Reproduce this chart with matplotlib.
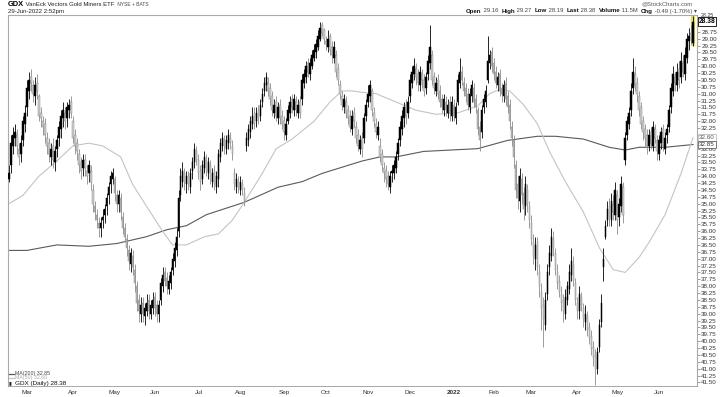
import numpy as np
import pandas as pd
import matplotlib
matplotlib.use('Agg')
import matplotlib.pyplot as plt
from matplotlib.lines import Line2D

plt.rcParams['font.family'] = ['Liberation Sans', 'DejaVu Sans']

holidays = ['2021-04-02', '2021-05-31', '2021-07-05', '2021-09-06', '2021-11-25',
            '2021-12-24', '2022-01-17', '2022-02-21', '2022-04-15', '2022-05-30', '2022-06-20']

opens = [
    34.1, 33.6, 32.9, 32.6, 32.5, 33.0, 33.2, 32.7, 32.1, 31.5,
    30.9, 30.4, 30.7, 31.1, 30.6, 31.1, 31.7, 32.0, 32.1, 32.6,
    32.8, 33.3, 32.9, 33.5, 33.0, 32.6, 32.3, 31.9, 31.7, 31.9,
    31.6, 31.3, 32.0, 32.5, 32.8, 33.2, 33.5, 33.7, 33.4, 33.8,
    33.9, 33.8, 34.5, 35.1, 35.4, 35.7, 35.9, 35.6, 35.4, 35.1,
    34.7, 34.3, 34.1, 34.1, 34.7, 35.0, 34.8, 35.5, 35.9, 36.3,
    36.7, 37.2, 36.9, 37.4, 38.0, 38.5, 39.0, 38.6, 39.1, 38.9,
    38.5, 39.0, 38.8, 38.4, 38.7, 39.0, 38.5, 38.0, 37.5, 37.7,
    38.1, 37.9, 37.4, 37.1, 36.7, 36.0, 34.7, 34.2, 33.9, 34.3,
    34.0, 34.4, 33.8, 33.5, 33.1, 33.4, 33.8, 34.1, 33.7, 33.4,
    33.9, 33.6, 34.2, 33.8, 34.4, 34.1, 33.3, 32.9, 32.7, 33.0,
    32.8, 32.6, 32.9, 33.9, 34.4, 34.2, 34.5, 34.3, 34.6, 32.9,
    32.7, 32.4, 32.1, 31.7, 32.0, 31.6, 31.8, 31.3, 30.9, 30.7,
    30.6, 30.8, 31.1, 31.7, 31.3, 31.9, 31.4, 31.8, 32.0, 32.5,
    32.0, 31.7, 31.2, 31.6, 31.3, 31.7, 31.3, 31.2, 30.6, 30.4,
    29.9, 30.3, 30.0, 29.7, 29.5, 29.3, 29.0, 28.5, 28.7, 29.1,
    29.3, 28.9, 29.3, 29.7, 29.6, 30.1, 30.7, 31.1, 31.5, 31.3,
    31.6, 31.8, 32.3, 31.7, 32.2, 32.5, 33.0, 32.6, 32.6, 31.8,
    31.3, 31.1, 30.9, 31.7, 32.1, 32.5, 32.9, 33.2, 33.7, 33.8,
    34.0, 34.4, 33.9, 33.9, 33.7, 33.2, 32.7, 32.3, 31.9, 31.4,
    31.7, 31.1, 30.6, 30.3, 30.1, 30.3, 30.7, 30.3, 30.5, 30.8,
    30.3, 29.9, 29.6, 30.4, 30.9, 30.5, 30.9, 31.2, 31.6, 31.3,
    31.7, 31.3, 31.8, 31.4, 31.9, 31.3, 30.6, 30.2, 30.6, 30.8,
    31.0, 31.5, 31.1, 30.8, 31.2, 31.6, 32.2, 32.4, 31.5, 31.3,
    30.5, 29.9, 29.5, 29.9, 30.2, 30.7, 30.3, 30.8, 31.1, 30.6,
    31.1, 31.4, 32.2, 32.7, 33.6, 34.3, 34.9, 34.1, 34.6, 35.1,
    34.5, 35.1, 35.7, 36.4, 37.0, 36.4, 37.5, 38.2, 38.7, 39.4,
    38.3, 37.3, 36.9, 36.3, 36.8, 37.5, 37.8, 38.3, 38.5, 39.0,
    38.5, 38.1, 37.6, 37.2, 37.9, 38.6, 38.9, 38.4, 38.8, 39.3,
    39.1, 39.5, 39.8, 40.2, 40.5, 41.0, 40.2, 39.3, 37.3, 36.2,
    35.6, 35.1, 35.6, 35.0, 35.4, 34.7, 35.5, 35.1, 34.4, 33.4,
    32.5, 32.1, 31.6, 30.8, 30.3, 30.6, 31.1, 31.5, 32.0, 32.3,
    32.5, 32.9, 32.4, 32.9, 32.3, 32.7, 33.2, 32.8, 32.3, 33.0,
    32.5, 32.2, 31.5, 30.9, 30.4, 30.7, 30.1, 30.4, 29.9, 30.3,
    29.7, 29.1, 28.8, 29.16]

highs = [
    34.2, 33.9, 33.2, 32.9, 33.2, 33.6, 33.5, 32.9, 32.4, 31.8,
    31.2, 30.9, 31.3, 31.4, 31.2, 32.0, 32.2, 32.5, 32.8, 33.2,
    33.5, 33.6, 33.7, 33.8, 33.3, 32.9, 32.6, 32.2, 32.3, 32.2,
    31.9, 31.9, 32.8, 33.2, 33.4, 33.9, 34.1, 34.0, 34.0, 34.3,
    34.2, 34.5, 35.3, 35.6, 35.9, 36.2, 36.2, 35.9, 35.7, 35.4,
    35.0, 34.6, 34.3, 34.9, 35.3, 35.3, 35.6, 36.1, 36.4, 36.9,
    37.4, 37.5, 37.6, 38.2, 38.9, 39.3, 39.3, 39.3, 39.4, 39.1,
    39.2, 39.2, 39.0, 39.1, 39.3, 39.3, 38.7, 38.2, 38.0, 38.3,
    38.3, 38.1, 37.6, 37.3, 36.9, 36.2, 34.9, 34.4, 34.5, 34.6,
    34.5, 34.6, 34.1, 33.7, 33.6, 34.1, 34.5, 34.3, 33.9, 34.0,
    34.1, 34.3, 34.4, 34.5, 34.6, 34.4, 33.5, 33.1, 33.2, 33.2,
    33.0, 33.0, 33.4, 34.5, 34.6, 34.6, 34.7, 34.7, 35.1, 33.1,
    32.9, 32.6, 32.3, 32.3, 32.2, 32.1, 32.0, 31.5, 31.1, 30.9,
    31.1, 31.4, 31.8, 31.9, 32.0, 32.1, 32.1, 32.3, 32.7, 32.7,
    32.1, 31.9, 31.7, 31.8, 31.8, 31.9, 31.9, 31.4, 30.8, 30.6,
    30.4, 30.5, 30.1, 29.8, 29.7, 29.4, 29.1, 28.9, 29.2, 29.4,
    29.5, 29.6, 29.9, 29.9, 30.4, 30.7, 31.2, 31.6, 31.7, 31.9,
    32.1, 32.4, 32.5, 32.2, 32.8, 33.1, 33.2, 33.3, 32.8, 32.0,
    31.5, 31.3, 31.8, 32.2, 32.6, 32.7, 33.5, 33.8, 34.2, 34.4,
    34.5, 34.6, 34.2, 34.1, 33.9, 33.4, 32.9, 32.5, 32.2, 32.1,
    31.9, 31.3, 30.8, 30.5, 30.7, 30.9, 30.9, 30.8, 31.1, 31.0,
    30.5, 30.1, 30.7, 31.0, 31.1, 31.2, 31.5, 31.7, 31.8, 31.8,
    31.9, 32.0, 32.0, 32.0, 32.1, 31.4, 30.8, 30.7, 31.1, 31.3,
    31.6, 31.7, 31.3, 31.5, 31.7, 32.5, 33.1, 32.6, 31.7, 31.5,
    30.6, 30.1, 30.2, 30.5, 30.8, 30.9, 31.1, 31.3, 31.3, 31.4,
    31.7, 32.3, 32.9, 33.7, 34.8, 35.2, 35.3, 35.0, 35.6, 35.4,
    35.3, 35.9, 36.5, 37.2, 37.4, 37.6, 38.4, 39.6, 40.2, 39.6,
    38.5, 37.6, 37.1, 36.9, 37.6, 38.1, 38.4, 38.9, 39.3, 39.2,
    38.7, 38.3, 37.8, 38.0, 38.7, 39.2, 39.2, 38.9, 39.5, 39.6,
    39.8, 40.1, 40.5, 40.9, 41.6, 41.2, 40.4, 39.5, 37.8, 36.3,
    35.8, 35.8, 35.8, 35.6, 35.6, 36.1, 35.8, 35.3, 35.7, 33.6,
    32.7, 32.3, 31.8, 31.0, 30.9, 31.3, 31.8, 32.3, 32.7, 32.9,
    33.2, 33.1, 33.0, 33.1, 32.8, 33.4, 33.4, 33.0, 33.1, 33.2,
    32.8, 32.4, 31.7, 31.1, 30.9, 30.9, 30.8, 30.6, 30.4, 30.5,
    29.9, 29.4, 29.2, 29.27]

lows = [
    33.6, 32.5, 32.2, 32.1, 32.3, 32.8, 32.5, 31.8, 31.4, 30.5,
    30.2, 30.1, 30.5, 30.4, 30.3, 31.0, 31.5, 31.8, 31.9, 32.4,
    32.6, 32.8, 32.6, 32.9, 32.5, 32.0, 31.6, 31.3, 31.5, 31.3,
    31.2, 31.1, 31.8, 32.3, 32.6, 33.0, 33.3, 33.2, 33.2, 33.6,
    33.4, 33.6, 34.3, 34.9, 35.2, 35.5, 35.5, 35.2, 35.0, 34.6,
    34.2, 33.8, 33.7, 34.0, 34.5, 34.5, 34.6, 35.3, 35.7, 36.1,
    36.5, 36.6, 36.7, 37.2, 37.8, 38.3, 38.4, 38.4, 38.6, 38.3,
    38.3, 38.5, 38.2, 38.2, 38.5, 38.5, 37.7, 37.3, 37.3, 37.5,
    37.6, 37.3, 36.8, 36.4, 35.9, 34.5, 33.7, 33.5, 33.7, 33.8,
    33.8, 33.7, 33.3, 32.8, 32.9, 33.2, 33.6, 33.4, 33.1, 33.2,
    33.3, 33.4, 33.7, 33.6, 33.8, 33.0, 32.6, 32.4, 32.5, 32.5,
    32.3, 32.4, 32.7, 33.7, 33.9, 34.0, 34.0, 34.1, 34.4, 32.4,
    32.1, 31.8, 31.5, 31.5, 31.5, 31.4, 31.2, 30.8, 30.4, 30.2,
    30.4, 30.6, 30.9, 31.2, 31.1, 31.3, 31.2, 31.6, 31.8, 31.9,
    31.4, 31.1, 31.0, 31.0, 31.1, 31.2, 31.1, 30.3, 30.1, 29.8,
    29.7, 29.7, 29.4, 29.2, 29.0, 28.7, 28.4, 28.4, 28.6, 28.9,
    28.7, 28.8, 29.1, 29.1, 29.4, 29.9, 30.5, 30.9, 31.0, 31.1,
    31.4, 31.6, 31.6, 31.5, 32.0, 32.3, 32.5, 32.4, 31.7, 31.2,
    30.7, 30.5, 30.8, 31.5, 31.9, 32.0, 32.6, 33.0, 33.5, 33.6,
    33.8, 33.8, 33.6, 33.4, 33.1, 32.6, 32.0, 31.6, 31.3, 31.2,
    31.1, 30.3, 30.0, 29.7, 29.9, 30.1, 30.0, 30.1, 30.3, 30.2,
    29.6, 28.5, 29.4, 30.2, 30.4, 30.3, 30.7, 31.0, 31.0, 31.1,
    31.2, 31.1, 31.1, 31.2, 31.3, 30.3, 29.7, 30.0, 30.4, 30.6,
    30.8, 30.8, 30.5, 30.6, 31.0, 31.5, 32.0, 31.4, 31.0, 30.7,
    28.9, 29.4, 29.3, 29.7, 30.0, 30.2, 30.1, 30.6, 30.5, 30.4,
    30.9, 31.2, 32.0, 32.5, 33.4, 34.0, 33.7, 33.9, 34.4, 34.0,
    34.3, 34.9, 35.4, 36.1, 36.2, 36.2, 37.2, 37.9, 38.4, 38.2,
    37.2, 36.5, 35.9, 36.0, 36.6, 37.2, 37.6, 38.0, 38.3, 38.1,
    37.8, 37.2, 36.6, 36.9, 37.7, 38.4, 38.0, 38.2, 38.6, 38.7,
    38.9, 39.3, 39.6, 40.0, 40.3, 40.2, 39.2, 38.3, 36.6, 35.6,
    34.9, 34.8, 34.6, 34.7, 34.2, 34.5, 34.8, 34.0, 34.2, 32.4,
    31.8, 31.5, 30.6, 29.7, 30.0, 30.4, 30.9, 31.3, 31.8, 32.1,
    32.3, 32.3, 32.2, 32.0, 32.1, 32.5, 32.5, 32.2, 32.1, 32.4,
    32.1, 31.4, 30.6, 30.0, 30.2, 29.9, 29.8, 29.5, 29.6, 29.3,
    28.8, 28.6, 28.5, 28.19]

closes = [
    33.9, 32.8, 32.5, 32.4, 32.9, 33.3, 32.8, 32.0, 31.7, 30.8,
    30.5, 30.6, 31.0, 30.7, 30.9, 31.8, 31.9, 32.2, 32.5, 32.9,
    33.2, 33.0, 33.4, 33.1, 32.7, 32.2, 31.8, 31.6, 32.0, 31.5,
    31.4, 31.7, 32.6, 32.9, 33.1, 33.6, 33.8, 33.4, 33.7, 34.0,
    33.6, 34.2, 35.0, 35.3, 35.6, 35.9, 35.7, 35.5, 35.2, 34.8,
    34.4, 34.0, 33.9, 34.6, 35.0, 34.7, 35.3, 35.9, 36.2, 36.6,
    37.1, 36.8, 37.3, 37.9, 38.6, 38.9, 38.7, 39.0, 38.8, 38.6,
    38.9, 38.7, 38.5, 38.8, 39.0, 38.7, 37.9, 37.6, 37.8, 38.0,
    37.8, 37.5, 37.0, 36.6, 36.2, 34.8, 34.0, 33.8, 34.2, 34.0,
    34.3, 33.9, 33.5, 33.0, 33.4, 33.9, 34.2, 33.6, 33.3, 33.8,
    33.5, 34.1, 33.9, 34.3, 34.0, 33.2, 32.8, 32.6, 32.9, 32.7,
    32.5, 32.8, 33.2, 34.3, 34.1, 34.4, 34.2, 34.5, 34.9, 32.6,
    32.3, 32.0, 31.8, 32.1, 31.7, 31.9, 31.4, 31.0, 30.6, 30.4,
    30.9, 31.2, 31.6, 31.4, 31.8, 31.5, 31.9, 32.1, 32.4, 32.1,
    31.6, 31.3, 31.5, 31.2, 31.6, 31.4, 31.7, 30.5, 30.3, 30.0,
    30.2, 29.9, 29.6, 29.4, 29.2, 28.9, 28.6, 28.8, 29.0, 29.2,
    29.0, 29.4, 29.6, 29.3, 30.2, 30.5, 31.0, 31.4, 31.2, 31.7,
    31.9, 32.2, 31.8, 32.0, 32.6, 32.9, 32.7, 33.0, 31.9, 31.4,
    31.0, 30.7, 31.6, 32.0, 32.4, 32.2, 33.3, 33.6, 33.9, 34.1,
    34.3, 34.0, 33.8, 33.6, 33.3, 32.8, 32.2, 31.8, 31.5, 31.8,
    31.3, 30.5, 30.2, 30.0, 30.4, 30.6, 30.2, 30.5, 30.9, 30.4,
    29.8, 29.3, 30.5, 30.8, 30.6, 31.0, 31.3, 31.5, 31.2, 31.6,
    31.4, 31.7, 31.3, 31.8, 31.5, 30.5, 30.2, 30.5, 30.9, 31.1,
    31.4, 31.0, 30.7, 31.3, 31.5, 32.3, 32.7, 31.6, 31.2, 30.9,
    29.8, 29.6, 30.0, 30.3, 30.6, 30.4, 30.9, 31.0, 30.7, 31.2,
    31.5, 32.0, 32.6, 33.3, 34.5, 34.8, 34.0, 34.7, 35.2, 34.3,
    35.0, 35.6, 36.3, 36.9, 36.5, 37.3, 38.0, 38.8, 39.2, 38.5,
    37.5, 36.8, 36.2, 36.6, 37.4, 37.9, 38.2, 38.6, 38.9, 38.4,
    38.0, 37.5, 37.1, 37.8, 38.5, 38.9, 38.3, 38.7, 39.2, 39.0,
    39.6, 39.9, 40.3, 40.6, 41.0, 40.4, 39.4, 38.6, 37.0, 35.8,
    35.2, 35.5, 34.9, 35.3, 34.5, 35.6, 35.0, 34.3, 35.4, 32.6,
    32.0, 31.7, 30.9, 30.2, 30.7, 31.0, 31.6, 32.1, 32.4, 32.6,
    32.9, 32.5, 32.8, 32.2, 32.6, 33.1, 32.7, 32.4, 32.9, 32.6,
    32.3, 31.6, 30.8, 30.3, 30.6, 30.2, 30.5, 29.8, 30.2, 29.6,
    29.0, 28.9, 28.87, 28.38]

# moving averages at sample bars
ma200_idx = [0, 9, 24, 40, 54, 69, 79, 89, 99, 118, 135, 147, 157, 177, 186, 194,
             208, 235, 240, 250, 265, 274, 288, 301, 309, 316, 329, 343]
ma200_val = [36.7, 36.7, 36.5, 36.55, 36.45, 36.2, 35.95, 35.8, 35.4, 34.95, 34.4, 34.2,
             33.9, 33.45, 33.3, 33.3, 33.1, 33.0, 32.9, 32.7, 32.55, 32.55, 32.65, 32.95,
             33.05, 32.95, 32.95, 32.85]
ma50_idx = [0, 7, 15, 24, 32, 40, 47, 56, 62, 69, 77, 82, 89, 98, 105, 112, 118, 127,
            134, 142, 153, 161, 167, 172, 177, 184, 194, 204, 214, 225, 235, 241, 246,
            251, 258, 265, 271, 279, 288, 296, 303, 309, 316, 321, 329, 337, 343]
ma50_val = [35.0, 34.7, 34.0, 33.45, 32.9, 32.8, 32.9, 33.3, 34.3, 35.1, 36.0, 36.5,
            36.5, 36.2, 36.1, 35.6, 34.95, 33.9, 33.0, 32.65, 32.0, 31.3, 30.9, 30.9,
            30.95, 31.0, 31.3, 31.6, 31.75, 31.7, 31.45, 31.0, 30.85, 30.9, 31.4, 32.1,
            33.1, 34.2, 35.3, 36.6, 37.4, 37.5, 36.95, 36.4, 35.4, 33.9, 32.6]

month_names = ['Mar', 'Apr', 'May', 'Jun', 'Jul', 'Aug', 'Sep', 'Oct', 'Nov', 'Dec',
               '2022', 'Feb', 'Mar', 'Apr', 'May', 'Jun']

# ---------------------------------------------------------------------------
o = np.array(opens); h = np.array(highs); l = np.array(lows); c = np.array(closes)
n = len(c)
dates = pd.bdate_range('2021-02-18', '2022-06-29')
dates = dates[~dates.isin(pd.to_datetime(holidays))][:n]
idx = np.arange(n)

W, H = 720, 397
fig = plt.figure(figsize=(W / 100, H / 100), dpi=100)
ax = fig.add_axes([8 / W, 11 / H, 689 / W, 371 / H])
ax.set_xlim(-0.5, 345)
ax.set_ylim(41.63, 28.14)

# moving averages
ax.plot(ma200_idx, ma200_val, color='#5a5a5a', lw=0.8, zorder=2)
ax.plot(ma50_idx, ma50_val, color='#c4c4c4', lw=0.8, zorder=2)

# last-bar highlight
ax.bar(idx[-1], h[-1] - l[-1], bottom=l[-1], width=1.6, color='#e9e52a', zorder=2.5,
       linewidth=0)

up = c >= o
wick_col = np.where(up, '#8c8c8c', '#000000')
ax.vlines(idx, l, h, colors=wick_col, lw=0.6, zorder=3)
body_h = np.maximum(np.abs(c - o), 0.03)
body_b = np.minimum(o, c)
ax.bar(idx[up], body_h[up], bottom=body_b[up], width=0.75, color='#cfcfcf',
       edgecolor='#8c8c8c', linewidth=0.35, zorder=4)
ax.bar(idx[~up], body_h[~up], bottom=body_b[~up], width=0.75, color='#000000',
       edgecolor='#000000', linewidth=0.35, zorder=4)

# y axis on the right
ax.yaxis.tick_right()
yt = np.arange(28.25, 41.5001, 0.25)
hidden = {28.50, 32.50, 32.75}
ylabels = ['' if round(v, 2) in hidden else f'{v:.2f}' for v in yt]
ax.set_yticks(yt)
ax.set_yticklabels(ylabels)
ax.tick_params(axis='y', which='both', length=2, width=0.5, color='#777777',
               labelsize=4.5, pad=1, labelcolor='#333333')
top_lab = ax.get_yticklabels()[0]
top_lab.set_verticalalignment('bottom')
top_lab.set_fontsize(3.8)

# x axis month labels
month_starts = [i for i in range(1, n) if dates[i].month != dates[i - 1].month]
ax.set_xticks([m + 2 for m in month_starts])
ax.set_xticklabels(month_names[:len(month_starts)])
ax.tick_params(axis='x', length=0, labelsize=4.6, pad=3, labelcolor='#333333')
for lab in ax.get_xticklabels():
    if lab.get_text() == '2022':
        lab.set_fontweight('bold')

for s in ['top', 'right', 'left']:
    ax.spines[s].set_color('#aaaaaa')
    ax.spines[s].set_linewidth(0.8)
ax.spines['bottom'].set_color('#999999')
ax.spines['bottom'].set_linestyle((0, (1, 1)))
ax.spines['bottom'].set_linewidth(0.6)

# value boxes on the right axis
ytr = ax.get_yaxis_transform()
ax.text(1.003, closes[-1], f'{closes[-1]:.2f}', transform=ytr, fontsize=4.8,
        fontweight='bold', va='center', ha='left', color='#000000', zorder=10,
        bbox=dict(boxstyle='square,pad=0.1', fc='white', ec='#000000', lw=0.6),
        clip_on=False)
ax.text(1.003, ma50_val[-1], f'{ma50_val[-1]:.2f}', transform=ytr, fontsize=4.5,
        va='center', ha='left', color='#555555', zorder=10,
        bbox=dict(boxstyle='square,pad=0.12', fc='white', ec='#bdbdbd', lw=0.6),
        clip_on=False)
ax.text(1.003, ma200_val[-1], f'{ma200_val[-1]:.2f}', transform=ytr, fontsize=4.5,
        va='center', ha='left', color='#333333', zorder=10,
        bbox=dict(boxstyle='square,pad=0.12', fc='white', ec='#666666', lw=0.6),
        clip_on=False)

# header
def fy(p):
    return 1 - p / H

fig.canvas.draw()
renderer = fig.canvas.get_renderer()

def run(parts, x0, ypix):
    xcur = x0
    for txt, size, weight, col in parts:
        t = fig.text(xcur / W, fy(ypix), txt, fontsize=size, va='center', ha='left',
                     fontweight=weight, color=col)
        xcur += t.get_window_extent(renderer=renderer).width
    return xcur

def width_of(parts):
    tot = 0
    for txt, size, weight, col in parts:
        t = fig.text(0, 0, txt, fontsize=size, fontweight=weight)
        tot += t.get_window_extent(renderer=renderer).width
        t.remove()
    return tot

left_parts = [('GDX', 5.4, 'bold', '#000000'),
              (' VanEck Vectors Gold Miners ETF ', 4.3, 'normal', '#222222'),
              (' NYSE + BATS', 3.5, 'normal', '#444444')]
run(left_parts, 8, 5)
fig.text(8 / W, fy(12), '29-Jun-2022 2:52pm', fontsize=4.4, va='center', ha='left',
         color='#222222')
fig.text(693 / W, fy(4), '@StockCharts.com', fontsize=4.2, va='center', ha='right',
         color='#555555')

B, N = '#111111', '#444444'
right_parts = [('Open', 4.4, 'bold', B), (' 29.16  ', 4.2, 'normal', N),
               ('High', 4.4, 'bold', B), (' 29.27  ', 4.2, 'normal', N),
               ('Low', 4.4, 'bold', B), (' 28.19  ', 4.2, 'normal', N),
               ('Last', 4.4, 'bold', B), (' 28.38  ', 4.2, 'normal', N),
               ('Volume', 4.4, 'bold', B), (' 11.5M  ', 4.2, 'normal', N),
               ('Chg', 4.4, 'bold', B), (' -0.49 (-1.70%) \u25be', 4.2, 'normal', N)]
wtot = width_of(right_parts)
run(right_parts, 697 - wtot, 11)

# legend bottom-left
fig.add_artist(Line2D([9 / W, 14 / W], [fy(373.5)] * 2, color='#5a5a5a', lw=0.9))
fig.text(15 / W, fy(373.5), f'MA(200) {ma200_val[-1]:.2f}', fontsize=3.8, va='center',
         ha='left', color='#444444')
fig.add_artist(Line2D([9 / W, 14 / W], [fy(378)] * 2, color='#c4c4c4', lw=0.9))
fig.text(15 / W, fy(378), f'MA(50) {ma50_val[-1]:.2f}', fontsize=3.8, va='center',
         ha='left', color='#aaaaaa')
fig.text(9 / W, fy(383), '\u25ae', fontsize=3.8, va='center', ha='left', color='#222222')
fig.text(15 / W, fy(383), f'GDX (Daily) {closes[-1]:.2f}', fontsize=4.6, va='center',
         ha='left', color='#111111')

fig.savefig('out.png', dpi=100)
